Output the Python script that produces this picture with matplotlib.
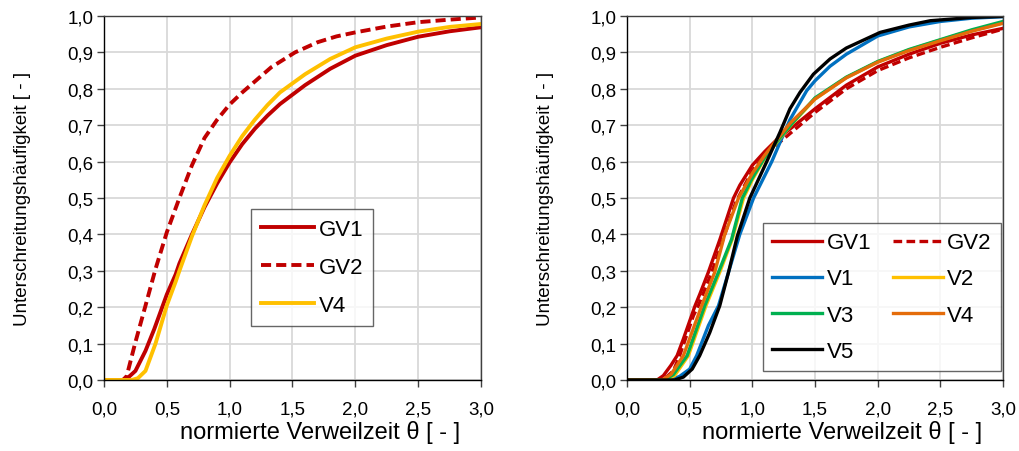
import matplotlib
matplotlib.use("Agg")
import matplotlib.pyplot as plt
from matplotlib.ticker import FuncFormatter

plt.rcParams['font.family'] = ['Liberation Sans', 'DejaVu Sans']

# ---- left panel: GV1, GV2, V4 ----
l_gv1_x = [0.0, 0.15, 0.18, 0.25, 0.33, 0.40, 0.50, 0.57, 0.60, 0.70, 0.80, 0.90, 1.00,
           1.10, 1.20, 1.30, 1.40, 1.60, 1.80, 2.00, 2.25, 2.50, 2.75, 3.00]
l_gv1_y = [0.0, 0.0, 0.003, 0.025, 0.08, 0.14, 0.235, 0.29, 0.32, 0.40, 0.475, 0.54, 0.598,
           0.648, 0.69, 0.726, 0.758, 0.81, 0.855, 0.891, 0.92, 0.943, 0.958, 0.969]

l_gv2_x = [0.0, 0.15, 0.18, 0.25, 0.33, 0.41, 0.50, 0.60, 0.70, 0.80, 0.90, 1.00,
           1.10, 1.20, 1.33, 1.52, 1.70, 1.85, 2.00, 2.25, 2.50, 2.75, 3.00]
l_gv2_y = [0.0, 0.0, 0.01, 0.104, 0.204, 0.305, 0.406, 0.50, 0.59, 0.665, 0.715, 0.757,
           0.79, 0.82, 0.859, 0.900, 0.928, 0.944, 0.955, 0.971, 0.983, 0.99, 0.996]

l_v4_x = [0.0, 0.22, 0.27, 0.33, 0.41, 0.50, 0.57, 0.60, 0.70, 0.80, 0.90, 1.00,
          1.10, 1.20, 1.30, 1.40, 1.60, 1.80, 2.00, 2.25, 2.50, 2.75, 3.00]
l_v4_y = [0.0, 0.0, 0.005, 0.025, 0.10, 0.205, 0.27, 0.30, 0.395, 0.48, 0.555, 0.616,
          0.67, 0.715, 0.755, 0.79, 0.84, 0.882, 0.914, 0.938, 0.957, 0.97, 0.978]

# ---- right panel: GV1, GV2, V1..V5 ----
r_gv1_x = [0.0, 0.24, 0.29, 0.35, 0.40, 0.45, 0.543, 0.58, 0.649, 0.742, 0.85, 0.90, 1.00,
           1.10, 1.20, 1.35, 1.50, 1.75, 2.00, 2.25, 2.50, 2.75, 3.00]
r_gv1_y = [0.0, 0.0, 0.012, 0.04, 0.067, 0.113, 0.204, 0.235, 0.296, 0.387, 0.50, 0.535, 0.59,
           0.628, 0.662, 0.703, 0.745, 0.81, 0.86, 0.895, 0.925, 0.948, 0.966]

r_gv2_x = [0.0, 0.26, 0.32, 0.37, 0.42, 0.53, 0.569, 0.676, 0.77, 0.87, 1.00,
           1.10, 1.20, 1.38, 1.50, 1.75, 2.00, 2.25, 2.50, 2.75, 3.00]
r_gv2_y = [0.0, 0.0, 0.01, 0.025, 0.067, 0.177, 0.204, 0.296, 0.39, 0.49, 0.575,
           0.618, 0.648, 0.70, 0.735, 0.80, 0.85, 0.885, 0.914, 0.94, 0.964]

r_v1_x = [0.0, 0.35, 0.42, 0.50, 0.556, 0.65, 0.73, 0.81, 0.90, 1.01, 1.155, 1.22, 1.30,
          1.434, 1.50, 1.62, 1.75, 2.00, 2.25, 2.50, 2.75, 3.00]
r_v1_y = [0.0, 0.0, 0.01, 0.03, 0.067, 0.15, 0.204, 0.296, 0.40, 0.50, 0.60, 0.652, 0.715,
          0.795, 0.822, 0.862, 0.895, 0.945, 0.970, 0.985, 0.994, 0.998]

r_v2_x = [0.0, 0.30, 0.38, 0.49, 0.63, 0.74, 0.84, 0.93, 1.00, 1.10, 1.20, 1.32, 1.50,
          1.75, 2.00, 2.25, 2.50, 2.75, 3.00]
r_v2_y = [0.0, 0.0, 0.012, 0.067, 0.204, 0.296, 0.387, 0.50, 0.55, 0.61, 0.655, 0.705, 0.772,
          0.831, 0.874, 0.907, 0.934, 0.96, 0.981]

r_v3_x = [0.0, 0.30, 0.37, 0.48, 0.62, 0.73, 0.835, 0.92, 1.00, 1.10, 1.20, 1.32, 1.50,
          1.75, 2.00, 2.25, 2.50, 2.75, 3.00]
r_v3_y = [0.0, 0.0, 0.015, 0.067, 0.204, 0.296, 0.387, 0.50, 0.555, 0.612, 0.657, 0.706, 0.775,
          0.832, 0.875, 0.908, 0.935, 0.962, 0.985]

r_v4_x = [0.0, 0.28, 0.35, 0.45, 0.596, 0.70, 0.78, 0.89, 1.00, 1.10, 1.20, 1.30, 1.50,
          1.75, 2.00, 2.25, 2.50, 2.75, 3.00]
r_v4_y = [0.0, 0.0, 0.015, 0.067, 0.204, 0.296, 0.40, 0.50, 0.568, 0.618, 0.662, 0.705, 0.772,
          0.83, 0.873, 0.905, 0.932, 0.958, 0.98]

r_v5_x = [0.0, 0.38, 0.45, 0.52, 0.58, 0.66, 0.74, 0.81, 0.88, 0.98, 1.115, 1.22, 1.30,
          1.38, 1.487, 1.62, 1.75, 2.02, 2.25, 2.42, 2.75, 3.00]
r_v5_y = [0.0, 0.0, 0.008, 0.03, 0.067, 0.13, 0.204, 0.296, 0.395, 0.50, 0.60, 0.68, 0.745,
          0.79, 0.84, 0.882, 0.912, 0.955, 0.975, 0.987, 0.996, 0.999]

RED = '#C00000'
YELLOW = '#FFC000'
BLUE = '#0070C0'
GREEN = '#00B050'
ORANGE = '#E46C0A'
BLACK = '#000000'

xticks = [0.0, 0.5, 1.0, 1.5, 2.0, 2.5, 3.0]
yticks = [0.0, 0.1, 0.2, 0.3, 0.4, 0.5, 0.6, 0.7, 0.8, 0.9, 1.0]

fig = plt.figure(figsize=(10.2, 4.52), dpi=100)
axL = fig.add_axes([104 / 1020, 1 - 381 / 452, 377 / 1020, 364 / 452])
axR = fig.add_axes([627 / 1020, 1 - 381 / 452, 376 / 1020, 364 / 452])

comma = FuncFormatter(lambda v, p: f"{v:.1f}".replace('.', ','))
TICK_FS = 13.5
XLAB_FS = 17
YLAB_FS = 13.5
LEG_FS = 16

for ax in (axL, axR):
    ax.set_xlim(0, 3.0)
    ax.set_ylim(0, 1.0)
    ax.set_xticks(xticks)
    ax.set_yticks(yticks)
    ax.xaxis.set_major_formatter(comma)
    ax.yaxis.set_major_formatter(comma)
    ax.grid(True, color='#D9D9D9', linewidth=1.3)
    ax.set_axisbelow(True)
    ax.tick_params(direction='out', length=5, width=1, color='#404040',
                   labelsize=TICK_FS)
    ax.tick_params(axis='x', pad=10)
    ax.tick_params(axis='y', pad=2.5)
    for s in ('top', 'right'):
        ax.spines[s].set_color('#404040')
        ax.spines[s].set_linewidth(1.0)
    for s in ('left', 'bottom'):
        ax.spines[s].set_color('#000000')
        ax.spines[s].set_linewidth(1.0)
    ax.set_xlabel('normierte Verweilzeit θ [ - ]', fontsize=XLAB_FS)
    ax.xaxis.set_label_coords(0.572, -0.11)
    ax.set_ylabel('Unterschreitungshäufigkeit [ - ]', fontsize=YLAB_FS, labelpad=26)

lwL = 2.8
axL.plot(l_gv1_x, l_gv1_y, color=RED, lw=lwL, label='GV1')
axL.plot(l_gv2_x, l_gv2_y, color=RED, lw=lwL, dashes=(2.6, 1.3), label='GV2')
axL.plot(l_v4_x, l_v4_y, color=YELLOW, lw=lwL, label='V4')
legL = axL.legend(loc='upper left', bbox_to_anchor=((251 - 104) / 377, 1 - (210 - 17) / 364),
                  fontsize=LEG_FS, frameon=True, fancybox=False, edgecolor='#404040',
                  handlelength=2.4, handletextpad=0.2, labelspacing=0.76,
                  borderpad=0.45, borderaxespad=0)
legL.get_frame().set_linewidth(1.0)

lwR = 2.4
axR.plot(r_gv1_x, r_gv1_y, color=RED, lw=lwR, label='GV1')
axR.plot(r_gv2_x, r_gv2_y, color=RED, lw=lwR, dashes=(2.6, 1.3), label='GV2')
axR.plot(r_v1_x, r_v1_y, color=BLUE, lw=lwR, label='V1')
axR.plot(r_v2_x, r_v2_y, color=YELLOW, lw=lwR, label='V2')
axR.plot(r_v3_x, r_v3_y, color=GREEN, lw=lwR, label='V3')
axR.plot(r_v4_x, r_v4_y, color=ORANGE, lw=lwR, label='V4')
axR.plot(r_v5_x, r_v5_y, color=BLACK, lw=lwR, label='V5')
hR, lR = axR.get_legend_handles_labels()
# row-wise ordering in a two-column legend
order = [0, 2, 4, 6, 1, 3, 5]
legR = axR.legend([hR[i] for i in order], [lR[i] for i in order],
                  ncol=2, loc='upper left', bbox_to_anchor=((763 - 627) / 376, 1 - (224 - 17) / 364),
                  fontsize=LEG_FS, frameon=True, fancybox=False, edgecolor='#404040',
                  handlelength=2.25, handletextpad=0.2, labelspacing=0.68,
                  columnspacing=0.95, borderpad=0.42, borderaxespad=0)
legR.get_frame().set_linewidth(1.0)

fig.savefig('out.png', dpi=100)
